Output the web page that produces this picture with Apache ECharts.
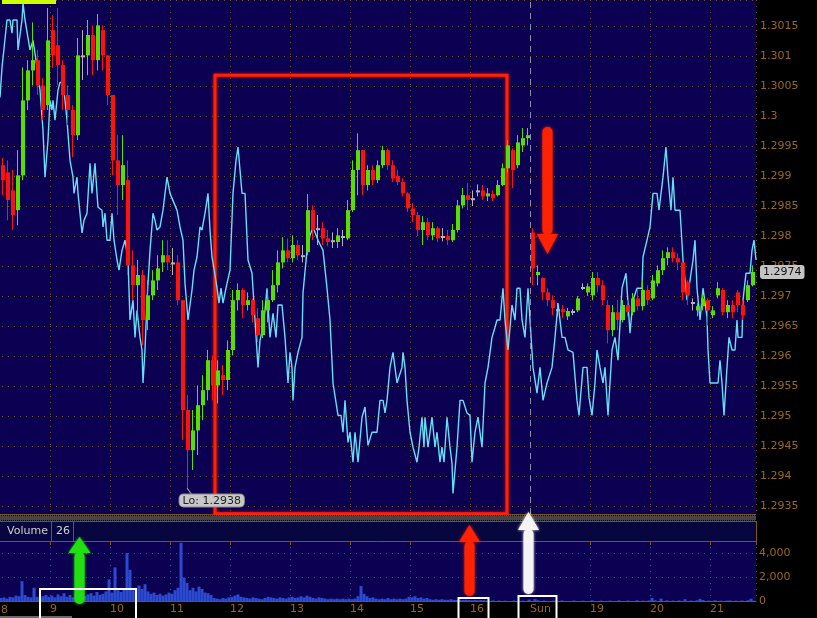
<!DOCTYPE html>
<html><head><meta charset="utf-8">
<script src="https://cdn.jsdelivr.net/npm/echarts@6/dist/echarts.min.js"></script>
<style>html,body{margin:0;padding:0;background:#000;}#c{width:817px;height:618px;}</style>
</head><body><div id="c"></div>
<script>
// ---------- data ----------
const dayLabels = ['8','9','10','11','12','13','14','15','16','Sun','19','20','21'];
const barsPerDay = 60;           // bars between day separators
const candleStart = 12, candleStep = 5;
const volumeStart = 11, volumeStep = 3;
// price in pips (1.2974 -> 12974); [open, close, low, high]
const candles = [
[12991.8,12989.3,12986.8,12993.0],[12990.6,12986.0,12982.6,12992.6],[12987.6,12983.5,12981.0,12991.0],[12984.3,12990.1,12981.8,12994.3],
[12990.1,13002.6,12989.3,13008.1],[13002.6,13007.6,13001.0,13009.3],[13007.6,13009.3,13005.1,13015.6],[13009.3,13005.1,13003.5,13011.0],
[13005.1,13001.0,12999.3,13006.3],[13001.8,13012.6,13001.0,13018.0],[13014.3,13010.1,13008.0,13016.8],[13011.8,13008.5,13005.1,13018.0],
[13008.5,13003.5,13001.0,13009.3],[13003.5,13001.0,12998.5,13005.1],[13001.0,12996.8,12993.1,13001.8],[12996.8,13010.1,12996.0,13013.0],
[13010.1,13010.1,13006.0,13014.3],[13010.1,13013.5,13006.8,13016.0],[13013.5,13009.3,13006.8,13015.1],[13009.3,13015.1,13007.6,13017.0],
[13014.3,13010.1,13007.6,13015.1],[13010.1,13003.5,13001.8,13010.1],[13003.5,12992.6,12990.1,13003.5],[12992.6,12988.5,12983.5,12996.8],
[12988.5,12991.8,12986.0,12996.8],[12989.3,12975.1,12973.5,12992.6],[12975.1,12971.8,12969.3,12977.6],[12971.8,12973.5,12966.0,12976.0],
[12973.5,12966.0,12961.8,12974.3],[12966.0,12970.1,12964.3,12972.6],[12970.1,12972.6,12969.3,12974.3],[12972.6,12974.6,12971.0,12976.8],
[12975.6,12976.8,12974.0,12979.3],[12976.8,12975.6,12974.3,12979.3],[12975.6,12975.6,12973.5,12978.0],[12975.6,12969.3,12968.5,12976.8],
[12969.3,12951.0,12946.0,12969.3],[12951.0,12944.3,12938.0,12953.5],[12944.3,12947.6,12941.0,12951.0],[12947.6,12951.8,12943.5,12955.1],
[12951.8,12954.3,12949.3,12956.8],[12954.3,12959.3,12952.6,12961.0],[12959.3,12955.1,12952.6,12960.1],[12955.1,12957.6,12952.1,12959.3],
[12956.8,12956.0,12953.5,12958.5],[12956.0,12961.0,12954.3,12962.6],[12961.0,12969.3,12960.1,12971.0],[12969.3,12971.0,12967.6,12972.1],
[12971.0,12968.5,12966.3,12971.3],[12968.5,12969.3,12967.6,12970.6],[12969.3,12966.8,12965.6,12969.6],[12966.3,12963.5,12962.3,12968.0],
[12963.5,12967.6,12963.0,12969.3],[12967.6,12969.3,12965.6,12970.6],[12969.3,12971.8,12969.0,12974.3],[12971.8,12975.6,12970.6,12977.6],
[12975.6,12977.6,12974.6,12979.8],[12977.6,12976.3,12975.6,12979.6],[12976.3,12978.5,12975.6,12980.1],[12978.5,12976.8,12976.0,12979.3],
[12976.8,12976.8,12975.6,12978.5],[12977.3,12984.3,12976.8,12987.0],[12984.3,12981.0,12979.3,12985.1],[12981.3,12981.3,12978.5,12983.5],
[12981.3,12979.6,12978.5,12982.3],[12979.6,12979.0,12978.3,12981.0],[12979.3,12979.3,12978.0,12980.6],[12979.0,12980.1,12978.0,12981.3],
[12980.0,12980.0,12978.3,12981.0],[12979.6,12984.3,12979.3,12986.0],[12984.3,12991.0,12984.0,12992.6],[12991.0,12994.3,12986.8,12997.1],
[12994.3,12988.5,12986.8,12994.3],[12988.5,12991.0,12987.6,12991.8],[12991.0,12989.3,12988.5,12991.8],[12989.3,12991.8,12988.8,12992.6],
[12991.8,12994.3,12991.3,12995.0],[12994.3,12991.8,12991.0,12994.6],[12991.8,12989.6,12989.0,12992.6],[12990.0,12989.0,12988.5,12991.0],
[12989.0,12987.1,12986.6,12989.6],[12987.1,12984.6,12984.0,12987.3],[12984.6,12983.5,12982.3,12985.5],[12983.5,12981.0,12980.0,12984.0],
[12981.0,12982.3,12978.5,12983.3],[12982.3,12980.1,12979.3,12983.0],[12980.1,12981.3,12979.3,12982.3],[12981.3,12979.6,12979.0,12981.6],
[12980.0,12980.0,12979.1,12981.3],[12980.0,12979.3,12978.5,12981.0],[12979.3,12981.0,12979.0,12982.0],[12981.0,12985.1,12980.6,12986.0],
[12985.1,12986.8,12984.6,12988.0],[12986.8,12986.0,12984.3,12988.8],[12986.3,12986.3,12985.0,12987.6],[12987.6,12987.6,12986.6,12988.6],
[12987.6,12986.6,12986.0,12988.5],[12986.6,12987.1,12985.8,12988.0],[12987.0,12986.3,12985.8,12987.6],[12986.8,12988.5,12986.6,12989.3],
[12988.5,12991.3,12988.3,12992.1],[12991.3,12995.1,12990.6,12996.0],[12994.3,12991.0,12988.0,12994.6],[12991.8,12995.6,12991.3,12996.8],
[12995.1,12996.3,12994.0,12998.0],[12996.3,12996.8,12995.1,12998.0],[12980.6,12974.6,12971.8,12981.3],[12973.5,12974.0,12971.8,12975.1],
[12973.0,12970.6,12969.3,12973.1],[12970.6,12969.3,12968.3,12971.3],[12969.3,12968.0,12966.8,12970.1],[12967.8,12967.8,12966.6,12968.8],
[12967.8,12967.3,12966.3,12968.5],[12966.6,12967.5,12966.0,12968.0],[12967.5,12967.5,12966.8,12967.8],[12967.6,12969.6,12967.3,12970.0],
[12971.5,12971.5,12971.0,12972.1],[12970.6,12971.6,12970.0,12972.1],[12970.1,12973.0,12969.3,12974.0],[12973.0,12971.8,12970.6,12974.0],
[12971.8,12969.3,12968.5,12972.6],[12968.5,12964.3,12962.1,12969.3],[12964.3,12967.3,12963.3,12968.5],[12967.3,12966.0,12964.3,12969.3],
[12966.0,12968.5,12965.6,12969.3],[12968.5,12967.3,12966.6,12969.3],[12967.3,12969.6,12966.8,12970.5],[12969.6,12968.3,12967.6,12971.0],
[12968.3,12971.0,12967.6,12972.6],[12971.0,12969.3,12968.5,12971.8],[12969.6,12972.6,12969.3,12973.5],[12972.1,12974.3,12971.6,12975.1],
[12974.3,12976.3,12973.5,12977.6],[12976.3,12977.3,12975.1,12978.1],[12977.3,12976.3,12975.6,12978.1],[12976.3,12975.6,12974.3,12977.1],
[12975.6,12970.6,12969.3,12975.6],[12972.3,12970.1,12968.5,12972.6],[12969.0,12969.0,12967.6,12969.6],[12967.6,12968.3,12966.6,12968.8],
[12968.3,12969.6,12967.6,12970.3],[12969.3,12967.6,12965.1,12969.6],[12966.8,12967.6,12966.3,12968.3],[12970.1,12971.3,12969.6,12972.3],
[12971.0,12967.3,12966.8,12971.3],[12967.3,12968.5,12966.3,12969.3],[12968.5,12967.3,12966.3,12969.3],[12970.6,12968.5,12967.3,12971.0],
[12968.5,12966.8,12966.0,12969.3],[12969.3,12971.8,12969.0,12972.6],[12971.8,12974.0,12971.6,12975.1]
];
// indicator line: [bar, value]
const cyanLine = [
[10,13003.1],[12,13008.1],[17,13016.0],[20,13016.0],[22,13013.8],[23,13016.0],[27,13016.0],[28,13011.0],[30,13011.0],[32,13016.0],[33,13018.8],[35,13016.0],[37,13016.0],[40,13011.0],[43,13012.6],[46,13009.3],[50,13004.3],[53,12997.6],[55,12989.8],[58,12996.0],[60,13002.6],[62,13001.0],[63,13002.6],[65,12999.3],[68,13004.3],[70,13005.6],[73,13005.6],[75,13002.6],[77,12999.3],[80,12992.6],[83,12989.8],[84,12987.1],[87,12989.8],[88,12987.1],[92,12980.5],[94,12982.6],[97,12983.8],[100,12992.1],[102,12987.1],[105,12992.1],[107,12987.1],[108,12984.8],[112,12984.3],[113,12981.5],[115,12983.8],[117,12979.3],[120,12979.3],[122,12983.8],[124,12979.3],[127,12976.0],[129,12974.3],[132,12977.6],[135,12979.3],[138,12976.0],[140,12966.0],[143,12969.3],[145,12963.1],[147,12967.6],[150,12963.1],[152,12961.0],[153,12955.5],[155,12961.0],[157,12969.3],[160,12977.6],[163,12983.8],[165,12982.6],[167,12981.0],[170,12981.5],[173,12984.3],[177,12989.8],[180,12987.1],[182,12987.1],[185,12985.1],[187,12984.3],[190,12981.5],[193,12979.3],[195,12972.1],[198,12966.0],[202,12971.0],[204,12974.3],[207,12976.5],[210,12981.5],[212,12981.0],[215,12983.8],[218,12987.1],[220,12981.0],[222,12976.5],[225,12973.5],[227,12971.3],[229,12968.8],[231,12971.3],[233,12968.8],[236,12971.3],[238,12971.0],[240,12974.3],[243,12987.1],[246,12992.6],[248,12994.8],[250,12991.0],[252,12987.1],[255,12987.1],[258,12976.0],[262,12973.8],[265,12966.0],[268,12958.1],[270,12962.6],[273,12964.8],[275,12967.6],[277,12971.3],[280,12963.1],[283,12967.1],[286,12963.1],[288,12968.5],[292,12968.5],[295,12963.1],[297,12958.1],[298,12955.5],[300,12960.6],[302,12958.1],[303,12952.6],[305,12958.1],[308,12960.6],[312,12963.1],[313,12970.5],[317,12977.6],[320,12980.1],[323,12981.5],[328,12979.3],[333,12977.6],[337,12971.3],[340,12966.0],[343,12955.5],[345,12955.5],[348,12950.1],[351,12950.1],[353,12947.3],[355,12952.6],[358,12945.6],[360,12947.3],[363,12942.3],[365,12947.3],[368,12942.3],[372,12949.8],[375,12951.5],[378,12945.1],[382,12947.3],[387,12947.3],[390,12952.6],[393,12952.6],[395,12950.5],[397,12952.6],[400,12958.1],[403,12960.6],[407,12955.5],[409,12955.5],[412,12958.1],[413,12960.6],[415,12958.1],[417,12952.6],[420,12947.3],[423,12944.8],[427,12942.3],[429,12944.8],[432,12949.8],[434,12944.8],[435,12949.8],[438,12944.8],[442,12949.8],[445,12944.8],[447,12947.3],[450,12942.3],[452,12944.8],[454,12942.3],[457,12949.8],[460,12944.8],[462,12942.1],[463,12937.1],[467,12944.8],[470,12952.6],[473,12952.6],[475,12952.6],[477,12950.5],[480,12950.1],[482,12942.3],[485,12947.3],[488,12949.8],[492,12944.8],[495,12955.5],[498,12958.1],[500,12960.6],[502,12963.1],[505,12964.8],[507,12966.0],[510,12966.0],[513,12971.3],[515,12966.0],[518,12961.0],[522,12968.5],[525,12966.0],[527,12971.3],[530,12971.3],[532,12966.0],[535,12963.1],[538,12971.3],[540,12966.0],[543,12958.1],[547,12953.8],[550,12958.1],[553,12952.6],[557,12955.5],[562,12958.1],[565,12963.1],[568,12968.8],[572,12963.1],[575,12963.1],[578,12961.0],[583,12960.6],[587,12952.6],[589,12950.1],[593,12958.1],[597,12958.1],[599,12953.1],[602,12950.1],[605,12955.5],[607,12961.0],[610,12958.1],[613,12955.5],[615,12958.1],[618,12950.1],[622,12961.0],[625,12963.1],[628,12959.3],[632,12971.3],[636,12973.8],[640,12963.8],[643,12969.3],[647,12971.3],[652,12971.3],[653,12976.5],[657,12979.3],[660,12981.5],[663,12987.1],[667,12987.1],[669,12984.3],[673,12989.8],[676,12994.8],[678,12989.8],[681,12984.3],[683,12989.8],[685,12984.3],[690,12984.3],[693,12976.0],[697,12969.3],[700,12972.6],[703,12976.0],[705,12979.3],[707,12971.3],[710,12966.0],[713,12971.3],[717,12966.5],[718,12961.0],[720,12955.5],[728,12955.5],[730,12959.3],[732,12955.5],[734,12950.1],[737,12958.1],[739,12963.1],[742,12961.0],[745,12961.0],[747,12966.0],[748,12963.1],[752,12963.1],[753,12969.3],[756,12973.8],[760,12973.8],[762,12977.6],[764,12979.3],[766,12976.0]
];
const volume = [
250,300,200,350,300,450,400,1650,500,350,
300,1100,350,250,400,500,350,450,300,550,
400,650,350,500,300,600,450,700,400,550,
650,450,750,500,600,800,1800,700,2800,900,
750,1000,4000,2600,900,1100,1300,1000,1400,800,
600,700,500,600,450,550,700,600,900,1100,
4850,1950,1500,900,1100,800,1200,1000,700,650,
500,250,200,150,250,200,300,350,450,550,
350,300,250,200,300,250,200,150,250,350,
300,250,200,300,250,200,300,350,250,300,
400,300,450,350,250,200,300,250,200,150,
200,150,200,150,200,150,200,150,200,400,
1250,600,400,250,300,200,150,200,150,250,
150,200,150,200,150,200,350,300,400,250,
300,200,250,150,100,150,100,150,100,100,
150,100,80,100,80,100,80,60,80,60,
80,
60,30,0,50,0,40,0,30,0,0,
40,0,0,30,0,120,0,160,60,0,
40,0,0,30,0,0,50,0,0,0,
40,0,0,30,0,0,60,0,0,40,
0,0,30,0,0,50,0,0,40,0,
0,60,0,30,0,50,250,60,0,200,
0,60,0,40,0,50,0,150,0,40,
0,60,180,80,0,40,0,60,0,30,
0,40,50,0,30,0,40,0,60,200,30
];
const lastPrice = 12974.0;
const lowPoint = [197, 12938.0];
const lowLabel = 'Lo: 1.2938';
const sundayBar = 540;
const boxCorners = [[225, 13006.8], [517, 12933.7]];
const volumeHeader = ['Volume', '26'];

// ---------- style ----------
const BROWN = '#7a5514', LABEL = '#98681c', DOT = '#6e5220', NAVY = '#0c0052';
const FONT = 'DejaVu Sans';
const UP = '#55e000', DOWN = '#ff1208', DOJI = '#b4b4b4';
const priceFmt = v => String(+(v / 10000).toFixed(4));
const vColors = dayLabels.map((d, i) => d === 'Sun' ? 'rgba(0,0,0,0)' : DOT).concat([DOT]);

const chart = echarts.init(document.getElementById('c'), null, {renderer: 'canvas'});

function arrow(cx, tipY, baseY, endY, headHalf, shaftHalf, color, up) {
  const shaftTop = up ? baseY - 1 : Math.min(endY, baseY);
  const shaftH = up ? endY - baseY + 1 : baseY - endY + 1;
  return {
    type: 'group', z: 200, children: [
      {type: 'rect', z: 200, shape: {x: cx - shaftHalf, y: shaftTop, width: shaftHalf * 2, height: shaftH, r: shaftHalf},
       style: {fill: color, shadowBlur: 3, shadowColor: color}},
      {type: 'polygon', z: 200, shape: {points: [[cx - headHalf, baseY], [cx + headHalf, baseY], [cx, tipY]]},
       style: {fill: color, shadowBlur: 3, shadowColor: color}}
    ]
  };
}

const checker = [];
for (let i = 0; i < 5; i++) {
  checker.push({type: 'line', z: 101, shape: {x1: 0, y1: 516 + i, x2: 756, y2: 516 + i},
    style: {stroke: '#8a8a8a', lineWidth: 1, lineDash: [1, 1], lineDashOffset: i % 2}});
}

const graphics = [
  {type: 'rect', z: 50, shape: {x: 2, y: 0, width: 54, height: 4}, style: {fill: '#ccff00'}},
  {type: 'line', z: 1, shape: {x1: 0, y1: 514.5, x2: 756, y2: 514.5}, style: {stroke: BROWN, lineWidth: 1}},
  {type: 'rect', z: 100, shape: {x: 0, y: 515.5, width: 817, height: 25.5}, style: {fill: '#000'}},
  ...checker,
  {type: 'line', z: 101, shape: {x1: 0, y1: 521.5, x2: 756, y2: 521.5}, style: {stroke: BROWN, lineWidth: 1}},
  {type: 'rect', z: 101, shape: {x: 0, y: 522, width: 756, height: 19}, style: {fill: '#08063e'}},
  {type: 'line', z: 102, shape: {x1: 51.5, y1: 522, x2: 51.5, y2: 541}, style: {stroke: BROWN, lineWidth: 1}},
  {type: 'line', z: 102, shape: {x1: 73.5, y1: 522, x2: 73.5, y2: 541}, style: {stroke: BROWN, lineWidth: 1}},
  {type: 'line', z: 102, shape: {x1: 756.5, y1: 521, x2: 756.5, y2: 541}, style: {stroke: BROWN, lineWidth: 1}},
  {type: 'text', z: 102, x: 7, y: 531.5, style: {text: volumeHeader[0], fill: '#cfcfcf', font: '11px "DejaVu Sans"', verticalAlign: 'middle'}},
  {type: 'text', z: 102, x: 56, y: 531.5, style: {text: volumeHeader[1], fill: '#cfcfcf', font: '11px "DejaVu Sans"', verticalAlign: 'middle'}},
  {type: 'text', z: 102, x: 1, y: 610, style: {text: dayLabels[0], fill: LABEL, font: '11px "DejaVu Sans"', verticalAlign: 'middle'}},
  {type: 'rect', z: 102, shape: {x: 0, y: 616, width: 72, height: 2}, style: {fill: '#6a6a6a'}},
  // hand-drawn annotations
  arrow(547.5, 254, 234, 127, 10.5, 5, '#ff2200', false),
  arrow(79.5, 537, 553, 604, 11, 5, '#22e010', true),
  arrow(469.5, 525, 542, 596, 10.5, 5, '#ff2200', true),
  arrow(528.5, 512, 530, 594, 10.5, 5, '#f4f4f4', true),
  {type: 'rect', z: 200, shape: {x: 40, y: 589, width: 96, height: 40}, style: {fill: 'none', stroke: '#fff', lineWidth: 2}},
  {type: 'rect', z: 200, shape: {x: 458.5, y: 598, width: 30, height: 30}, style: {fill: 'none', stroke: '#fff', lineWidth: 2}},
  {type: 'rect', z: 200, shape: {x: 518.5, y: 596, width: 38, height: 30}, style: {fill: 'none', stroke: '#fff', lineWidth: 2}}
];

const option = {
  backgroundColor: '#000',
  animation: false,
  grid: [
    {left: -10, top: 0, width: 766, height: 536, show: true, backgroundColor: NAVY, borderWidth: 0, outerBoundsMode: 'none', containLabel: false},
    {left: -10, top: 541, width: 766, height: 60, show: true, backgroundColor: NAVY, borderWidth: 0, outerBoundsMode: 'none', containLabel: false}
  ],
  xAxis: [
    {gridIndex: 0, type: 'value', min: 0, max: 766, interval: barsPerDay,
     axisLine: {show: false}, axisTick: {show: false}, axisLabel: {show: false},
     splitLine: {show: true, lineStyle: {color: vColors, type: [1, 5], width: 1}}},
    {gridIndex: 1, type: 'value', min: 0, max: 766, interval: barsPerDay, position: 'bottom',
     axisLine: {show: true, onZero: false, lineStyle: {color: BROWN, width: 1}}, axisTick: {show: false},
     axisLabel: {show: true, interval: 0, color: LABEL, fontSize: 11, fontFamily: FONT, align: 'left', margin: 3,
       showMinLabel: true, showMaxLabel: false,
       formatter: v => { const i = Math.round(v / barsPerDay); return (v % barsPerDay === 0 && i > 0 && i < dayLabels.length) ? dayLabels[i] : ''; }},
     splitLine: {show: true, lineStyle: {color: vColors, type: [1, 5], width: 1}}},
    {gridIndex: 1, type: 'value', min: 0, max: 766, interval: barsPerDay, position: 'top',
     axisLine: {show: true, onZero: false, lineStyle: {color: BROWN, width: 1}},
     axisTick: {show: true, inside: true, length: 4, lineStyle: {color: BROWN}},
     axisLabel: {show: false}, splitLine: {show: false}}
  ],
  yAxis: [
    {gridIndex: 0, type: 'value', position: 'right', min: 12930, max: 13019.33, interval: 5,
     axisLine: {show: true, lineStyle: {color: BROWN, width: 1}},
     axisTick: {show: true, inside: true, length: 5, lineStyle: {color: BROWN}},
     axisLabel: {show: true, color: LABEL, fontSize: 11, fontFamily: FONT, margin: 4, showMaxLabel: false, formatter: priceFmt},
     splitLine: {show: true, lineStyle: {color: DOT, type: [1, 5], width: 1}}},
    {gridIndex: 1, type: 'value', position: 'right', min: 0, max: 5000, interval: 2000,
     axisLine: {show: true, lineStyle: {color: BROWN, width: 1}},
     axisTick: {show: true, inside: true, length: 5, lineStyle: {color: BROWN}},
     axisLabel: {show: true, color: LABEL, fontSize: 11, fontFamily: FONT, margin: 3, showMaxLabel: false,
       formatter: v => v.toLocaleString('en-US')},
     splitLine: {show: true, lineStyle: {color: DOT, type: [1, 5], width: 1}}}
  ],
  series: [
    {type: 'line', name: 'indicator', xAxisIndex: 0, yAxisIndex: 0, z: 3, silent: true,
     data: cyanLine, showSymbol: false, symbol: 'none', clip: true,
     lineStyle: {color: '#66def8', width: 1.4}},
    {type: 'custom', name: 'price', xAxisIndex: 0, yAxisIndex: 0, z: 5, silent: true, clip: true,
     data: candles.map((q, k) => [candleStart + candleStep * k, q[0], q[1], q[2], q[3]]),
     encode: {x: 0, y: [1, 2, 3, 4]},
     renderItem: (params, api) => {
       const x = api.value(0), o = api.value(1), c = api.value(2), l = api.value(3), h = api.value(4);
       const pO = api.coord([x, o]), pC = api.coord([x, c]), pL = api.coord([x, l]), pH = api.coord([x, h]);
       const col = c > o ? UP : (c < o ? DOWN : DOJI);
       const cx = Math.round(pO[0]);
       const top = Math.min(pO[1], pC[1]), bot = Math.max(pO[1], pC[1]);
       return {type: 'group', children: [
         {type: 'line', shape: {x1: cx + 0.5, y1: pH[1], x2: cx + 0.5, y2: pL[1]}, style: {stroke: col, lineWidth: 1}},
         {type: 'rect', shape: {x: cx - 1, y: top, width: 4, height: Math.max(bot - top, 2)}, style: {fill: col}}
       ]};
     }},
    {type: 'bar', name: 'volume', xAxisIndex: 1, yAxisIndex: 1, silent: true, barWidth: 3,
     data: volume.map((v, j) => [volumeStart + volumeStep * j, v]),
     itemStyle: {color: '#2a4ad0'}},
    {type: 'line', name: 'notes', xAxisIndex: 0, yAxisIndex: 0, z: 10, data: [], silent: true,
     markArea: {silent: true, itemStyle: {color: 'rgba(0,0,0,0)', borderColor: '#ff2200', borderWidth: 3, shadowBlur: 3, shadowColor: '#ff0000'},
       data: [[{coord: boxCorners[0]}, {coord: boxCorners[1]}]]},
     markLine: {silent: true, symbol: 'none', animation: false,
       data: [
         {xAxis: sundayBar, lineStyle: {color: '#8c8ca8', type: [6, 5], width: 1}, label: {show: false}},
         {yAxis: lastPrice, lineStyle: {color: 'rgba(0,0,0,0)', width: 0},
          label: {show: true, position: 'end', distance: 4, formatter: priceFmt(lastPrice), color: '#111',
                  backgroundColor: '#c4c4c4', borderRadius: 3, padding: [2, 3, 1, 3], fontSize: 11, fontFamily: FONT}}
       ]},
     markPoint: {silent: true, animation: false,
       data: [{coord: lowPoint, symbol: 'path://M0,0L5,7', symbolSize: [5, 7], symbolOffset: [2.5, 3.5],
         itemStyle: {color: 'rgba(0,0,0,0)', borderColor: '#a0a0a0', borderWidth: 1},
         label: {show: true, formatter: lowLabel, position: [-7, 7], align: 'left', verticalAlign: 'top',
           color: '#222', backgroundColor: '#c8c8c8', borderColor: '#8a8a8a', borderWidth: 1, borderRadius: 4,
           padding: [1, 3, 0, 3], fontSize: 11, fontFamily: FONT}}]}}
  ],
  graphic: graphics
};
chart.setOption(option);
</script>
</body></html>
